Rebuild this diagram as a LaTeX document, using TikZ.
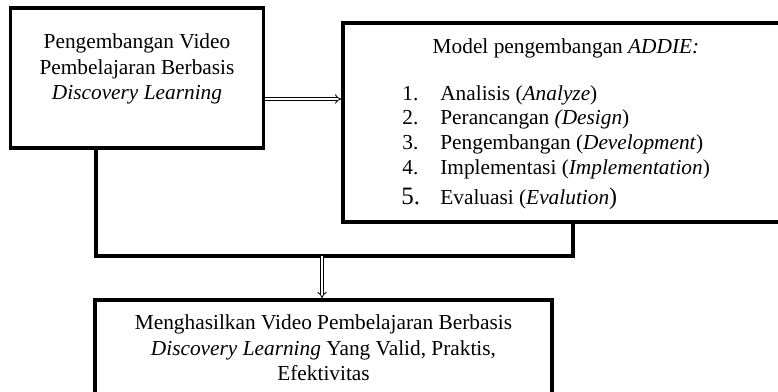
\documentclass[tikz,border=0pt]{standalone}
\usepackage{fontspec}
\setmainfont{Liberation Serif}
\usetikzlibrary{arrows.meta}
\tikzset{
  box/.style = {draw = black, line width = 2.2pt, inner sep = 0pt},
  link/.style = {draw = black, line width = 2.2pt},
  dblarrow/.style = {double, double distance = 1.4pt, line width = 0.5pt, -{Implies}},
  txt/.style = {font = \fontsize{12.8}{15.2}\selectfont, inner sep = 0pt}
}
\begin{document}
\begin{tikzpicture}[x = 0.6pt, y = -0.6pt]
\useasboundingbox (0,0) rectangle (778,392);
% boxes
\node[box, minimum width = 253*0.6pt, minimum height = 140*0.6pt] (dev) at (137,78) {};
\node[box, minimum width = 446*0.6pt, minimum height = 199*0.6pt] (addie) at (566,122.5) {};
\node[box, minimum width = 457*0.6pt, minimum height = 96*0.6pt] (result) at (323.5,348) {};
% texts
\node[txt, align = center] (devtext) at (137,69) {Pengembangan Video\\ Pembelajaran Berbasis\\ \textit{Discovery Learning}};
\node[txt] (addietitle) at (566,48) {Model pengembangan \textit{ADDIE:}};
\foreach \n/\y/\item in {1/101/{Analisis (\textit{Analyze})}, 2/125/{Perancangan \textit{(Design})}, 3/150/{Pengembangan (\textit{Development})}, 4/175/{Implementasi (\textit{Implementation})}}
{
  \node[txt, anchor = base west] (num\n) at (402,\y) {\n.};
  \node[txt, anchor = base west] (item\n) at (440,\y) {\item};
}
\node[txt, anchor = base west, font = \fontsize{15}{17}\selectfont] (num5) at (401,205) {5.};
\node[txt, anchor = base west] (item5) at (440,205) {Evaluasi (\textit{Evalution}\Large)};
\node[txt, align = center] (resulttext) at (323.5,348) {Menghasilkan Video Pembelajaran Berbasis\\ \textit{Discovery Learning} Yang Valid, Praktis,\\ Efektivitas};
% connectors
\coordinate (jl) at (96,256);
\coordinate (jr) at (573,256);
\coordinate (jm) at (322,256);
\coordinate (mid) at (0,99);
\draw[link] (dev.south -| jl) -- (jl) -- (jr) -- (addie.south -| jr);
\draw[dblarrow] (dev.east |- mid) -- (addie.west |- mid);
\draw[dblarrow] (jm) -- (result.north -| jm);
\end{tikzpicture}
\end{document}
